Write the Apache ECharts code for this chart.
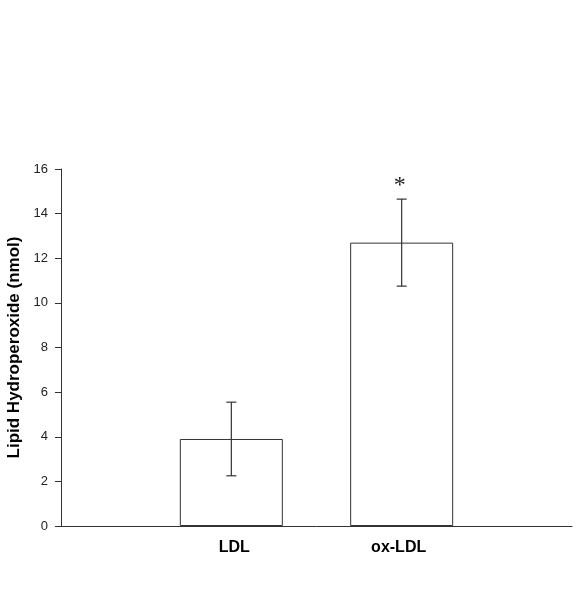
<!DOCTYPE html>
<html>
<head>
	<meta charset="UTF-8">
	<title>Lipid Hydroperoxide</title>
	<style type="text/css">
		html, body { margin: 0; padding: 0; background: #fff; }
		#chart { width: 582px; height: 606px; }
	</style>
</head>
<body>
	<div id="chart"></div>
	<script src="https://cdn.jsdelivr.net/npm/echarts@6/dist/echarts.min.js"></script>
	<script>
		// categories (empty ones pad the axis ends)
		var categories = ['', 'LDL', 'ox-LDL', ''];
		// mean values
		var means = [null, 3.9, 12.7, null];
		// error (+/-)
		var errors = [null, 1.65, 1.95, null];
		// significance markers
		var marks = ['', '', '*', ''];
		var yTicks = [0, 2, 4, 6, 8, 10, 12, 14, 16];

		var errData = [];
		for (var i = 0; i < categories.length; i++) {
			if (means[i] != null) {
				errData.push([i, means[i] - errors[i], means[i] + errors[i], marks[i]]);
			}
		}

		var chart = echarts.init(document.getElementById('chart'));
		var option = {
			animation: false,
			grid: { left: 61, right: 10, top: 169, bottom: 80, outerBoundsMode: 'none', containLabel: false },
			xAxis: {
				type: 'category',
				data: categories,
				boundaryGap: false,
				axisLine: { lineStyle: { color: '#333', width: 1 } },
				axisTick: { show: false },
				axisLabel: {
					interval: 0,
					margin: 14,
					color: '#000',
					fontFamily: 'Liberation Sans, Arial',
					fontWeight: 'bold',
					fontSize: 16,
					// labels sit a little off the bar centres in the original
					formatter: function (v, idx) {
						if (!v) return '';
						return idx === 1 ? '{l|' + v + '}' : '{r|' + v + '}';
					},
					rich: {
						l: { padding: [0, 0, 0, 6], fontWeight: 'bold', fontSize: 16, color: '#000' },
						r: { padding: [0, 6, 0, 0], fontWeight: 'bold', fontSize: 16, color: '#000' }
					}
				},
				splitLine: { show: false }
			},
			yAxis: {
				type: 'value',
				min: yTicks[0],
				max: yTicks[yTicks.length - 1],
				interval: 2,
				name: 'Lipid Hydroperoxide (nmol)',
				nameLocation: 'middle',
				nameGap: 38,
				nameTextStyle: {
					color: '#000',
					fontFamily: 'Liberation Sans, Arial',
					fontWeight: 'bold',
					fontSize: 17
				},
				axisLine: { show: true, lineStyle: { color: '#333', width: 1 } },
				axisTick: { show: true, length: 6, lineStyle: { color: '#333' } },
				axisLabel: {
					margin: 13,
					color: '#222',
					fontFamily: 'Liberation Sans, Arial',
					fontSize: 13
				},
				splitLine: { show: false }
			},
			series: [
				{
					type: 'bar',
					data: means,
					barWidth: 103,
					itemStyle: { color: '#fff', borderColor: '#333', borderWidth: 1 }
				},
				{
					type: 'custom',
					data: errData,
					z: 10,
					renderItem: function (params, api) {
						var lo = api.coord([api.value(0), api.value(1)]);
						var hi = api.coord([api.value(0), api.value(2)]);
						var cap = 5;
						var style = { stroke: '#333', lineWidth: 1.2 };
						var children = [
							{ type: 'line', shape: { x1: hi[0], y1: hi[1], x2: lo[0], y2: lo[1] }, style: style },
							{ type: 'line', shape: { x1: hi[0] - cap, y1: hi[1], x2: hi[0] + cap, y2: hi[1] }, style: style },
							{ type: 'line', shape: { x1: lo[0] - cap, y1: lo[1], x2: lo[0] + cap, y2: lo[1] }, style: style }
						];
						var mk = errData[params.dataIndex][3];
						if (mk) {
							children.push({
								type: 'text',
								style: {
									text: mk, x: hi[0] - 2, y: hi[1] - 1,
									align: 'center', verticalAlign: 'bottom',
									font: '24px "Liberation Serif", "Times New Roman", serif',
									fill: '#222'
								}
							});
						}
						return { type: 'group', children: children };
					}
				}
			]
		};
		chart.setOption(option);
	</script>
</body>
</html>
